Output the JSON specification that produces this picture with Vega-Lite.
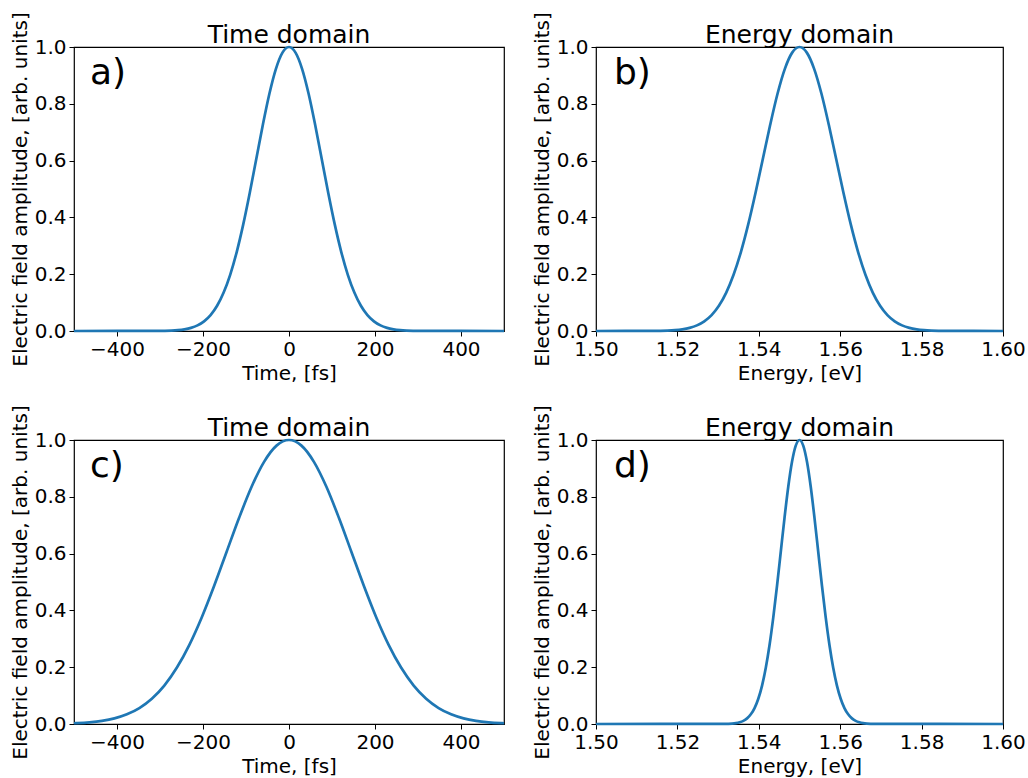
{
  "$schema": "https://vega.github.io/schema/vega-lite/v6.json",
  "padding": {"left": 9, "top": 11, "right": 2, "bottom": 2},
  "background": "white",
  "config": {
    "font": "DejaVu Sans",
    "view": {"stroke": "black", "strokeWidth": 1.2},
    "axis": {
      "grid": false,
      "domain": false,
      "ticks": true,
      "tickColor": "black",
      "tickSize": 5,
      "tickWidth": 1,
      "labelFontSize": 20,
      "labelColor": "black",
      "labelFlush": false,
      "labelOverlap": false,
      "labelBound": false,
      "labelPadding": 3,
      "titleFontSize": 20,
      "titleFontWeight": "normal",
      "titleColor": "black",
      "titlePadding": 4,
      "titleLimit": 1000
    },
    "title": {"fontSize": 25, "fontWeight": "normal", "color": "black", "offset": -36, "frame": "group"}
  },
  "datasets": {
    "a": [
      {"t": -500, "amp": 0}, {"t": -304, "amp": 0.0003}, {"t": -288.8, "amp": 0.0007}, {"t": -273.6, "amp": 0.0015},
      {"t": -258.4, "amp": 0.0031}, {"t": -243.2, "amp": 0.006}, {"t": -228, "amp": 0.0111}, {"t": -212.8, "amp": 0.0198},
      {"t": -197.6, "amp": 0.0341}, {"t": -182.4, "amp": 0.0561}, {"t": -167.2, "amp": 0.0889}, {"t": -152, "amp": 0.1353},
      {"t": -136.8, "amp": 0.1979}, {"t": -121.6, "amp": 0.278}, {"t": -106.4, "amp": 0.3753}, {"t": -91.2, "amp": 0.4868},
      {"t": -76, "amp": 0.6065}, {"t": -60.8, "amp": 0.7261}, {"t": -45.6, "amp": 0.8353}, {"t": -30.4, "amp": 0.9231},
      {"t": -15.2, "amp": 0.9802}, {"t": 0, "amp": 1},
      {"t": 15.2, "amp": 0.9802}, {"t": 30.4, "amp": 0.9231}, {"t": 45.6, "amp": 0.8353}, {"t": 60.8, "amp": 0.7261},
      {"t": 76, "amp": 0.6065}, {"t": 91.2, "amp": 0.4868}, {"t": 106.4, "amp": 0.3753}, {"t": 121.6, "amp": 0.278},
      {"t": 136.8, "amp": 0.1979}, {"t": 152, "amp": 0.1353}, {"t": 167.2, "amp": 0.0889}, {"t": 182.4, "amp": 0.0561},
      {"t": 197.6, "amp": 0.0341}, {"t": 212.8, "amp": 0.0198}, {"t": 228, "amp": 0.0111}, {"t": 243.2, "amp": 0.006},
      {"t": 258.4, "amp": 0.0031}, {"t": 273.6, "amp": 0.0015}, {"t": 288.8, "amp": 0.0007}, {"t": 304, "amp": 0.0003},
      {"t": 500, "amp": 0}
    ],
    "b": [
      {"e": 1.5, "amp": 0}, {"e": 1.514, "amp": 0.0003}, {"e": 1.5158, "amp": 0.0007}, {"e": 1.5176, "amp": 0.0015},
      {"e": 1.5194, "amp": 0.0031}, {"e": 1.5212, "amp": 0.006}, {"e": 1.523, "amp": 0.0111}, {"e": 1.5248, "amp": 0.0198},
      {"e": 1.5266, "amp": 0.0341}, {"e": 1.5284, "amp": 0.0561}, {"e": 1.5302, "amp": 0.0889}, {"e": 1.532, "amp": 0.1353},
      {"e": 1.5338, "amp": 0.1979}, {"e": 1.5356, "amp": 0.278}, {"e": 1.5374, "amp": 0.3753}, {"e": 1.5392, "amp": 0.4868},
      {"e": 1.541, "amp": 0.6065}, {"e": 1.5428, "amp": 0.7261}, {"e": 1.5446, "amp": 0.8353}, {"e": 1.5464, "amp": 0.9231},
      {"e": 1.5482, "amp": 0.9802}, {"e": 1.55, "amp": 1},
      {"e": 1.5518, "amp": 0.9802}, {"e": 1.5536, "amp": 0.9231}, {"e": 1.5554, "amp": 0.8353}, {"e": 1.5572, "amp": 0.7261},
      {"e": 1.559, "amp": 0.6065}, {"e": 1.5608, "amp": 0.4868}, {"e": 1.5626, "amp": 0.3753}, {"e": 1.5644, "amp": 0.278},
      {"e": 1.5662, "amp": 0.1979}, {"e": 1.568, "amp": 0.1353}, {"e": 1.5698, "amp": 0.0889}, {"e": 1.5716, "amp": 0.0561},
      {"e": 1.5734, "amp": 0.0341}, {"e": 1.5752, "amp": 0.0198}, {"e": 1.577, "amp": 0.0111}, {"e": 1.5788, "amp": 0.006},
      {"e": 1.5806, "amp": 0.0031}, {"e": 1.5824, "amp": 0.0015}, {"e": 1.5842, "amp": 0.0007}, {"e": 1.586, "amp": 0.0003},
      {"e": 1.6, "amp": 0}
    ],
    "c": [
      {"t": -500, "amp": 0.0026}, {"t": -493, "amp": 0.0031}, {"t": -464, "amp": 0.006}, {"t": -435, "amp": 0.0111},
      {"t": -406, "amp": 0.0198}, {"t": -377, "amp": 0.0341}, {"t": -348, "amp": 0.0561}, {"t": -319, "amp": 0.0889},
      {"t": -290, "amp": 0.1353}, {"t": -261, "amp": 0.1979}, {"t": -232, "amp": 0.278}, {"t": -203, "amp": 0.3753},
      {"t": -174, "amp": 0.4868}, {"t": -145, "amp": 0.6065}, {"t": -116, "amp": 0.7261}, {"t": -87, "amp": 0.8353},
      {"t": -58, "amp": 0.9231}, {"t": -29, "amp": 0.9802}, {"t": 0, "amp": 1},
      {"t": 29, "amp": 0.9802}, {"t": 58, "amp": 0.9231}, {"t": 87, "amp": 0.8353}, {"t": 116, "amp": 0.7261},
      {"t": 145, "amp": 0.6065}, {"t": 174, "amp": 0.4868}, {"t": 203, "amp": 0.3753}, {"t": 232, "amp": 0.278},
      {"t": 261, "amp": 0.1979}, {"t": 290, "amp": 0.1353}, {"t": 319, "amp": 0.0889}, {"t": 348, "amp": 0.0561},
      {"t": 377, "amp": 0.0341}, {"t": 406, "amp": 0.0198}, {"t": 435, "amp": 0.0111}, {"t": 464, "amp": 0.006},
      {"t": 493, "amp": 0.0031}, {"t": 500, "amp": 0.0026}
    ],
    "d": [
      {"e": 1.5, "amp": 0}, {"e": 1.5316, "amp": 0.0003}, {"e": 1.53252, "amp": 0.0007}, {"e": 1.53344, "amp": 0.0015},
      {"e": 1.53436, "amp": 0.0031}, {"e": 1.53528, "amp": 0.006}, {"e": 1.5362, "amp": 0.0111}, {"e": 1.53712, "amp": 0.0198},
      {"e": 1.53804, "amp": 0.0341}, {"e": 1.53896, "amp": 0.0561}, {"e": 1.53988, "amp": 0.0889}, {"e": 1.5408, "amp": 0.1353},
      {"e": 1.54172, "amp": 0.1979}, {"e": 1.54264, "amp": 0.278}, {"e": 1.54356, "amp": 0.3753}, {"e": 1.54448, "amp": 0.4868},
      {"e": 1.5454, "amp": 0.6065}, {"e": 1.54632, "amp": 0.7261}, {"e": 1.54724, "amp": 0.8353}, {"e": 1.54816, "amp": 0.9231},
      {"e": 1.54908, "amp": 0.9802}, {"e": 1.55, "amp": 1},
      {"e": 1.55092, "amp": 0.9802}, {"e": 1.55184, "amp": 0.9231}, {"e": 1.55276, "amp": 0.8353}, {"e": 1.55368, "amp": 0.7261},
      {"e": 1.5546, "amp": 0.6065}, {"e": 1.55552, "amp": 0.4868}, {"e": 1.55644, "amp": 0.3753}, {"e": 1.55736, "amp": 0.278},
      {"e": 1.55828, "amp": 0.1979}, {"e": 1.5592, "amp": 0.1353}, {"e": 1.56012, "amp": 0.0889}, {"e": 1.56104, "amp": 0.0561},
      {"e": 1.56196, "amp": 0.0341}, {"e": 1.56288, "amp": 0.0198}, {"e": 1.5638, "amp": 0.0111}, {"e": 1.56472, "amp": 0.006},
      {"e": 1.56564, "amp": 0.0031}, {"e": 1.56656, "amp": 0.0015}, {"e": 1.56748, "amp": 0.0007}, {"e": 1.5684, "amp": 0.0003},
      {"e": 1.6, "amp": 0}
    ]
  },
  "bounds": "flush",
  "columns": 2,
  "spacing": {"row": 109, "column": 92},
  "concat": [
    {
      "width": 430, "height": 284,
      "title": "Time domain",
      "layer": [
        {
          "data": {"name": "a"},
          "mark": {"type": "line", "color": "#1f77b4", "strokeWidth": 2.7, "interpolate": "monotone"},
          "encoding": {
            "x": {"field": "t", "type": "quantitative", "scale": {"domain": [-500, 500], "nice": false, "zero": false},
                  "axis": {"title": "Time, [fs]", "values": [-400, -200, 0, 200, 400], "format": "d"}},
            "y": {"field": "amp", "type": "quantitative", "scale": {"domain": [0, 1], "nice": false},
                  "axis": {"title": "Electric field amplitude, [arb. units]", "values": [0, 0.2, 0.4, 0.6, 0.8, 1.0], "format": ".1f"}}
          }
        },
        {
          "data": {"values": [{"label": "a)"}]},
          "mark": {"type": "text", "fontSize": 36, "align": "left", "baseline": "alphabetic", "color": "black"},
          "encoding": {"x": {"datum": -463}, "y": {"datum": 0.87}, "text": {"field": "label"}}
        }
      ]
    },
    {
      "width": 407, "height": 284,
      "title": "Energy domain",
      "layer": [
        {
          "data": {"name": "b"},
          "mark": {"type": "line", "color": "#1f77b4", "strokeWidth": 2.7, "interpolate": "monotone"},
          "encoding": {
            "x": {"field": "e", "type": "quantitative", "scale": {"domain": [1.5, 1.6], "nice": false, "zero": false},
                  "axis": {"title": "Energy, [eV]", "values": [1.5, 1.52, 1.54, 1.56, 1.58, 1.6], "format": ".2f"}},
            "y": {"field": "amp", "type": "quantitative", "scale": {"domain": [0, 1], "nice": false},
                  "axis": {"title": "Electric field amplitude, [arb. units]", "values": [0, 0.2, 0.4, 0.6, 0.8, 1.0], "format": ".1f"}}
          }
        },
        {
          "data": {"values": [{"label": "b)"}]},
          "mark": {"type": "text", "fontSize": 36, "align": "left", "baseline": "alphabetic", "color": "black"},
          "encoding": {"x": {"datum": 1.5044}, "y": {"datum": 0.87}, "text": {"field": "label"}}
        }
      ]
    },
    {
      "width": 430, "height": 284,
      "title": "Time domain",
      "layer": [
        {
          "data": {"name": "c"},
          "mark": {"type": "line", "color": "#1f77b4", "strokeWidth": 2.7, "interpolate": "monotone"},
          "encoding": {
            "x": {"field": "t", "type": "quantitative", "scale": {"domain": [-500, 500], "nice": false, "zero": false},
                  "axis": {"title": "Time, [fs]", "values": [-400, -200, 0, 200, 400], "format": "d"}},
            "y": {"field": "amp", "type": "quantitative", "scale": {"domain": [0, 1], "nice": false},
                  "axis": {"title": "Electric field amplitude, [arb. units]", "values": [0, 0.2, 0.4, 0.6, 0.8, 1.0], "format": ".1f"}}
          }
        },
        {
          "data": {"values": [{"label": "c)"}]},
          "mark": {"type": "text", "fontSize": 36, "align": "left", "baseline": "alphabetic", "color": "black"},
          "encoding": {"x": {"datum": -463}, "y": {"datum": 0.87}, "text": {"field": "label"}}
        }
      ]
    },
    {
      "width": 407, "height": 284,
      "title": "Energy domain",
      "layer": [
        {
          "data": {"name": "d"},
          "mark": {"type": "line", "color": "#1f77b4", "strokeWidth": 2.7, "interpolate": "monotone"},
          "encoding": {
            "x": {"field": "e", "type": "quantitative", "scale": {"domain": [1.5, 1.6], "nice": false, "zero": false},
                  "axis": {"title": "Energy, [eV]", "values": [1.5, 1.52, 1.54, 1.56, 1.58, 1.6], "format": ".2f"}},
            "y": {"field": "amp", "type": "quantitative", "scale": {"domain": [0, 1], "nice": false},
                  "axis": {"title": "Electric field amplitude, [arb. units]", "values": [0, 0.2, 0.4, 0.6, 0.8, 1.0], "format": ".1f"}}
          }
        },
        {
          "data": {"values": [{"label": "d)"}]},
          "mark": {"type": "text", "fontSize": 36, "align": "left", "baseline": "alphabetic", "color": "black"},
          "encoding": {"x": {"datum": 1.5044}, "y": {"datum": 0.87}, "text": {"field": "label"}}
        }
      ]
    }
  ]
}
